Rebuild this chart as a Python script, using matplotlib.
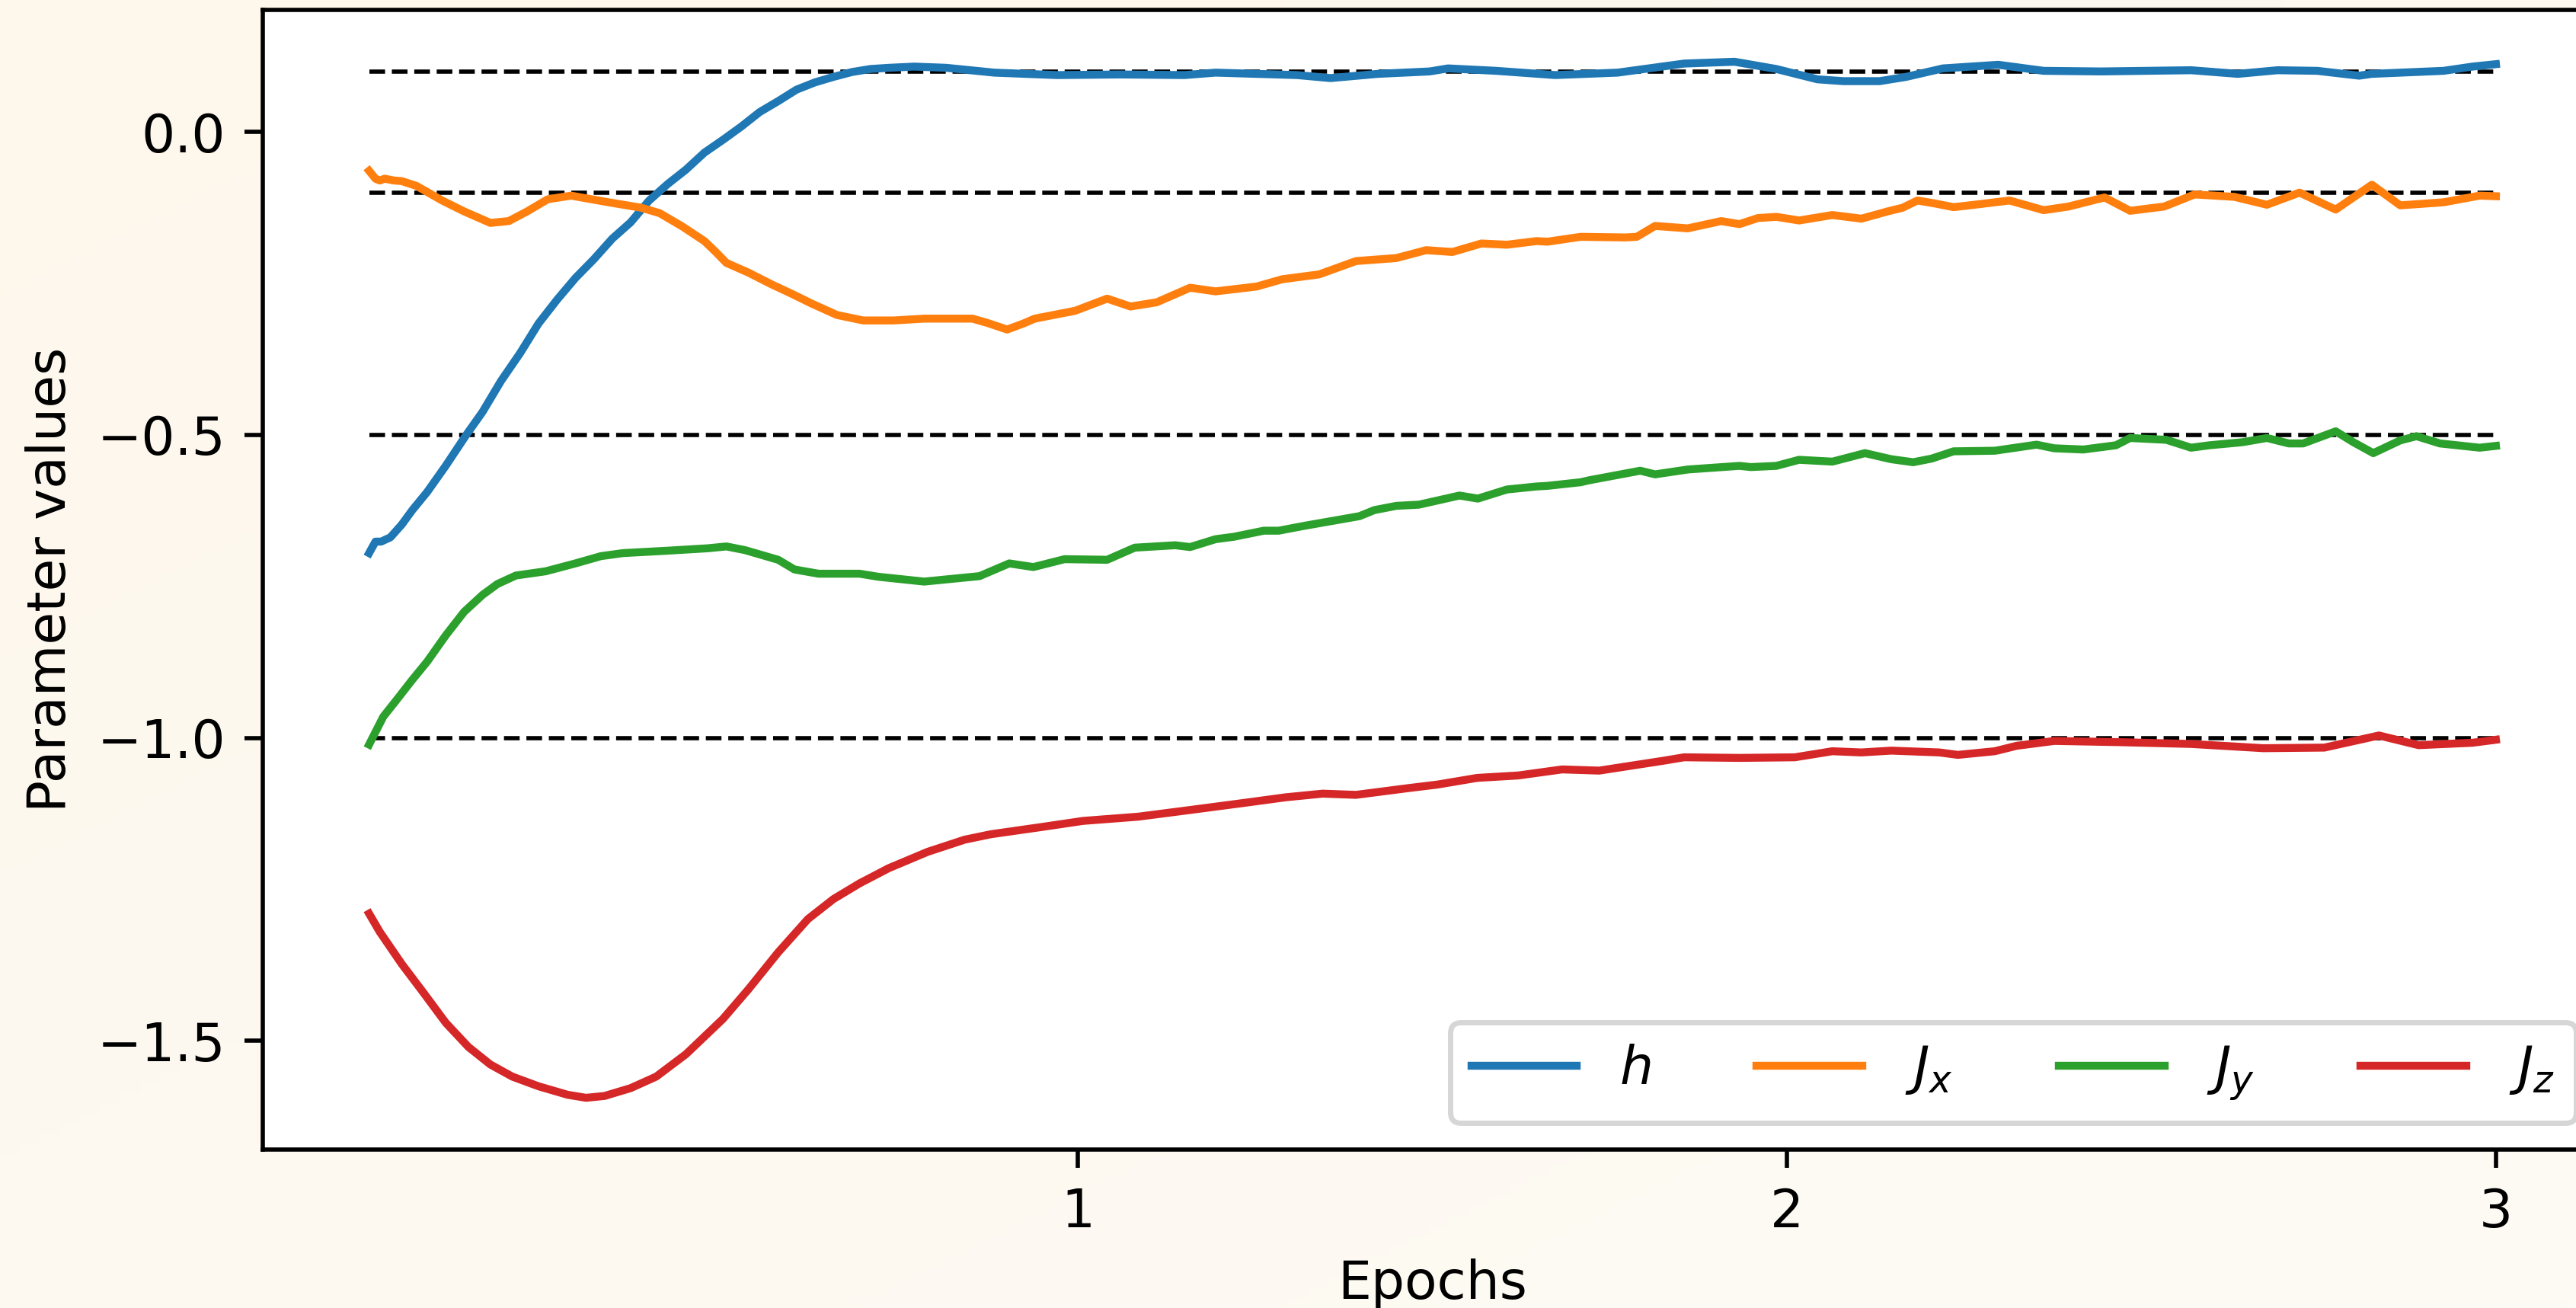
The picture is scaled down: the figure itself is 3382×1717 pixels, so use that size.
"""
Learned Hamiltonian parameters over training epochs.
"""

import numpy as np
import matplotlib
matplotlib.use('Agg')
import matplotlib.pyplot as plt

# Target values (dashed reference lines)
targets = [0.1, -0.1, -0.5, -1.0]

# h
x_h = [0, 0.009, 0.017, 0.030, 0.046, 0.061, 0.082, 0.108, 0.137, 0.160,
       0.186, 0.213, 0.239, 0.265, 0.291, 0.317, 0.343, 0.369, 0.395, 0.421,
       0.447, 0.473, 0.499, 0.525, 0.551, 0.577, 0.603, 0.629, 0.655, 0.681,
       0.707, 0.733, 0.769, 0.814, 0.882, 0.970, 1.059, 1.150, 1.194, 1.309,
       1.356, 1.423, 1.496, 1.522, 1.590, 1.673, 1.761, 1.855, 1.926, 1.985,
       2.043, 2.079, 2.131, 2.168, 2.220, 2.298, 2.362, 2.443, 2.570, 2.636,
       2.692, 2.748, 2.807, 2.825, 2.926, 2.967, 3.0]
h_vals = [-0.695, -0.676, -0.676, -0.669, -0.648, -0.624, -0.594, -0.551, -0.500, -0.462,
          -0.411, -0.365, -0.316, -0.277, -0.241, -0.210, -0.176, -0.149, -0.113, -0.086,
          -0.062, -0.034, -0.013, 0.009, 0.033, 0.051, 0.070, 0.082, 0.091, 0.099,
          0.104, 0.106, 0.108, 0.106, 0.098, 0.094, 0.095, 0.094, 0.098, 0.094,
          0.089, 0.096, 0.100, 0.105, 0.101, 0.094, 0.098, 0.113, 0.116, 0.104,
          0.087, 0.084, 0.084, 0.091, 0.105, 0.111, 0.101, 0.100, 0.102, 0.096,
          0.102, 0.101, 0.093, 0.096, 0.101, 0.108, 0.112]

# J_x
x_jx = [0, 0.009, 0.015, 0.022, 0.035, 0.046, 0.067, 0.103, 0.134, 0.171,
        0.197, 0.223, 0.252, 0.285, 0.338, 0.384, 0.410, 0.442, 0.473, 0.489,
        0.504, 0.535, 0.567, 0.598, 0.624, 0.660, 0.697, 0.740, 0.783, 0.851,
        0.872, 0.900, 0.923, 0.939, 0.996, 1.041, 1.074, 1.111, 1.158, 1.194,
        1.252, 1.288, 1.340, 1.392, 1.449, 1.491, 1.528, 1.569, 1.605, 1.647,
        1.662, 1.709, 1.772, 1.788, 1.814, 1.860, 1.907, 1.933, 1.959, 1.985,
        2.017, 2.064, 2.105, 2.142, 2.163, 2.184, 2.209, 2.235, 2.272, 2.314,
        2.362, 2.397, 2.448, 2.484, 2.532, 2.575, 2.631, 2.677, 2.723, 2.774,
        2.825, 2.865, 2.926, 2.977, 3.0]
jx_vals = [-0.064, -0.077, -0.080, -0.077, -0.080, -0.081, -0.089, -0.113, -0.131, -0.150,
           -0.147, -0.131, -0.111, -0.105, -0.116, -0.125, -0.134, -0.156, -0.180, -0.198,
           -0.216, -0.232, -0.251, -0.268, -0.283, -0.302, -0.311, -0.311, -0.308, -0.308,
           -0.315, -0.326, -0.316, -0.308, -0.295, -0.275, -0.288, -0.281, -0.257, -0.263,
           -0.255, -0.243, -0.235, -0.213, -0.208, -0.195, -0.198, -0.184, -0.186, -0.180,
           -0.181, -0.173, -0.174, -0.173, -0.155, -0.159, -0.147, -0.152, -0.142, -0.140,
           -0.146, -0.137, -0.143, -0.131, -0.125, -0.113, -0.118, -0.124, -0.119, -0.113,
           -0.129, -0.123, -0.108, -0.130, -0.123, -0.103, -0.107, -0.120, -0.100, -0.128,
           -0.087, -0.121, -0.116, -0.105, -0.106]

# J_y
x_jy = [0, 0.020, 0.041, 0.061, 0.082, 0.108, 0.134, 0.160, 0.181, 0.207,
        0.249, 0.291, 0.327, 0.358, 0.421, 0.478, 0.504, 0.530, 0.577, 0.600,
        0.634, 0.692, 0.718, 0.783, 0.861, 0.903, 0.937, 0.981, 1.041, 1.080,
        1.137, 1.158, 1.194, 1.220, 1.262, 1.283, 1.319, 1.397, 1.418, 1.449,
        1.481, 1.538, 1.564, 1.605, 1.647, 1.662, 1.709, 1.720, 1.793, 1.814,
        1.860, 1.933, 1.949, 1.985, 2.017, 2.064, 2.110, 2.147, 2.178, 2.204,
        2.235, 2.293, 2.352, 2.377, 2.418, 2.464, 2.484, 2.535, 2.570, 2.596,
        2.642, 2.677, 2.708, 2.728, 2.774, 2.799, 2.827, 2.865, 2.888, 2.921,
        2.977, 3.0]
jy_vals = [-1.011, -0.965, -0.934, -0.904, -0.874, -0.831, -0.792, -0.764, -0.746, -0.732,
           -0.725, -0.712, -0.700, -0.695, -0.691, -0.687, -0.684, -0.690, -0.706, -0.722,
           -0.729, -0.729, -0.734, -0.742, -0.733, -0.712, -0.718, -0.705, -0.706, -0.686,
           -0.682, -0.685, -0.672, -0.668, -0.658, -0.658, -0.650, -0.634, -0.624, -0.617,
           -0.615, -0.600, -0.605, -0.590, -0.585, -0.584, -0.578, -0.575, -0.559, -0.565,
           -0.557, -0.551, -0.553, -0.551, -0.541, -0.544, -0.530, -0.540, -0.545, -0.539,
           -0.527, -0.526, -0.516, -0.522, -0.524, -0.517, -0.505, -0.508, -0.521, -0.517,
           -0.512, -0.505, -0.514, -0.514, -0.494, -0.512, -0.530, -0.509, -0.502, -0.514,
           -0.521, -0.518]

# J_z
x_jz = [0, 0.015, 0.046, 0.077, 0.108, 0.140, 0.171, 0.202, 0.239, 0.280,
        0.306, 0.332, 0.369, 0.405, 0.447, 0.499, 0.535, 0.577, 0.619, 0.655,
        0.692, 0.733, 0.788, 0.840, 0.877, 0.949, 1.007, 1.085, 1.158, 1.236,
        1.293, 1.345, 1.392, 1.465, 1.507, 1.563, 1.621, 1.683, 1.735, 1.824,
        1.855, 1.933, 2.011, 2.064, 2.105, 2.147, 2.215, 2.241, 2.293, 2.324,
        2.377, 2.469, 2.570, 2.672, 2.758, 2.835, 2.891, 2.967, 3.0]
jz_vals = [-1.290, -1.320, -1.373, -1.421, -1.470, -1.510, -1.539, -1.559, -1.575, -1.589,
           -1.594, -1.591, -1.578, -1.559, -1.522, -1.464, -1.415, -1.354, -1.299, -1.266,
           -1.240, -1.215, -1.188, -1.168, -1.159, -1.147, -1.137, -1.130, -1.119, -1.107,
           -1.098, -1.092, -1.094, -1.083, -1.077, -1.066, -1.062, -1.052, -1.054, -1.038,
           -1.032, -1.033, -1.032, -1.022, -1.024, -1.021, -1.024, -1.028, -1.022, -1.013,
           -1.005, -1.007, -1.010, -1.017, -1.016, -0.996, -1.012, -1.008, -1.003]

series = [
    (x_h, h_vals, r'$h$'),
    (x_jx, jx_vals, r'$J_x$'),
    (x_jy, jy_vals, r'$J_y$'),
    (x_jz, jz_vals, r'$J_z$'),
]
xticks = [1, 2, 3]
yticks = [-1.5, -1.0, -0.5, 0.0]

DPI = 500
fig = plt.figure(figsize=(3382 / DPI, 1717 / DPI), dpi=DPI)

# Soft cream background with a faint diagonal gradient
bg = fig.add_axes([0, 0, 1, 1], zorder=-10)
gx, gy = np.meshgrid(np.linspace(0, 1, 256), np.linspace(0, 1, 128))
t = (gx + gy) / 2
c0 = np.array([253, 247, 236]) / 255
c1 = np.array([254, 251, 245]) / 255
grad = c0[None, None, :] * (1 - t[..., None]) + c1[None, None, :] * t[..., None]
bg.imshow(grad, extent=[0, 1, 0, 1], aspect='auto', origin='upper')
bg.axis('off')

# Main axes (right spine falls just outside the saved canvas, as in the source)
ax = fig.add_axes([0.1020, 0.1211, 0.9082, 0.8713])
ax.set_facecolor('white')

ax.hlines(targets, 0, 3, colors='k', linestyles='--', linewidth=0.8)
for xs, ys, label in series:
    ax.plot(xs, ys, label=label, linewidth=1.5)

ax.set_xticks(xticks)
ax.set_yticks(yticks)
ax.set_xlabel('Epochs')
ax.set_ylabel('Parameter values')
ax.legend(loc='lower right', ncol=4)

fig.savefig('out.png', dpi=DPI)
plt.close(fig)
